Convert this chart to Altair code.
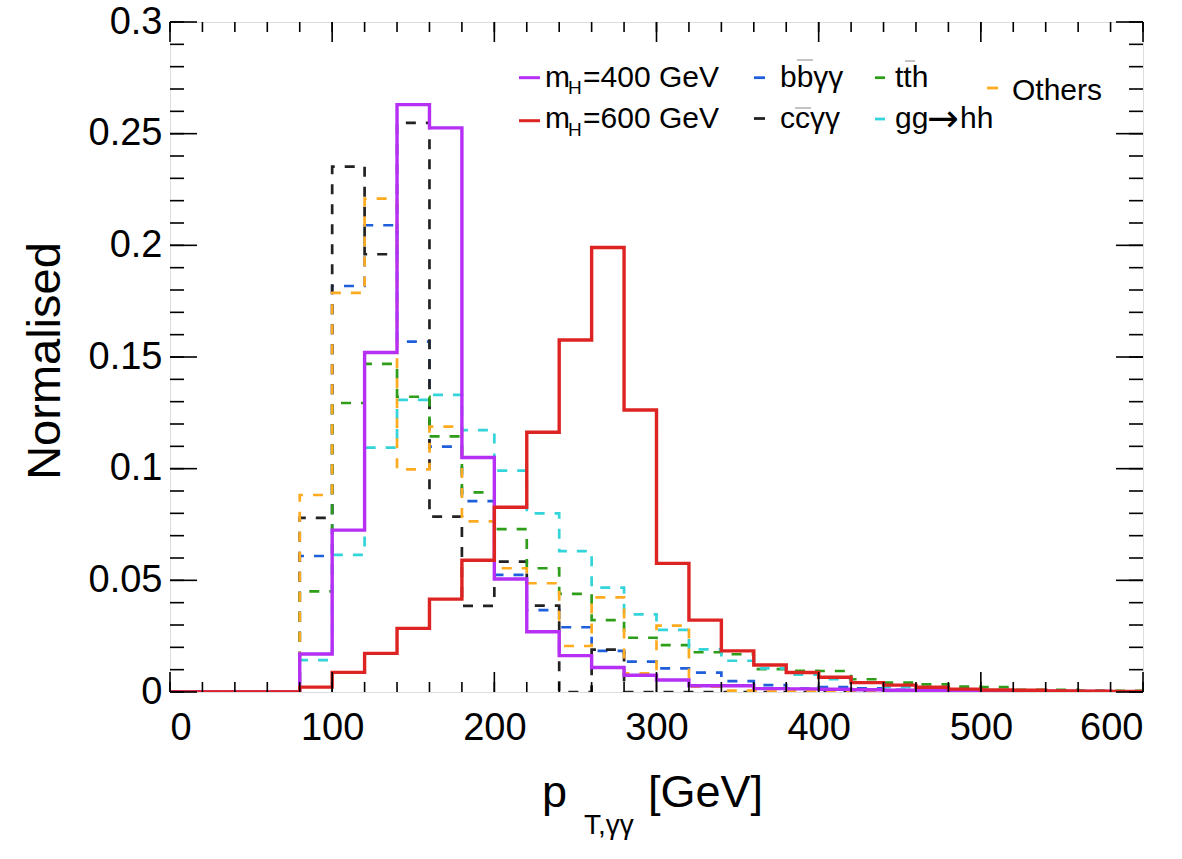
import altair as alt
import pandas as pd

# ---------------- data ----------------
edges = list(range(0, 620, 20))          # 0..600, bin width 20 GeV
zeros_low = [0.0, 0.0, 0.0, 0.0]          # bins 0-80

mh400 = zeros_low + [0.017, 0.0725, 0.152, 0.263, 0.2526, 0.105, 0.0506, 0.027, 0.0163, 0.011,
                     0.0075, 0.0054, 0.0028, 0.0028, 0.0015, 0.0014, 0.0012, 0.001, 0.0008, 0.0006,
                     0.0005, 0.0004, 0.0003, 0.0002, 0.0002, 0.0001]
mh600 = zeros_low + [0.0022, 0.0088, 0.0173, 0.0285, 0.0416, 0.059, 0.0827, 0.1163, 0.1576, 0.199,
                     0.1263, 0.0576, 0.0322, 0.0184, 0.0121, 0.0087, 0.0066, 0.0042, 0.0031, 0.0021,
                     0.0013, 0.0009, 0.0008, 0.0005, 0.0004, 0.0003]
bbaa = zeros_low + [0.0609, 0.1818, 0.209, 0.1569, 0.1099, 0.0855, 0.0524, 0.0367, 0.029, 0.0184,
                    0.0136, 0.0106, 0.0087, 0.0049, 0.0031, 0.0015, 0.0022, 0.0016, 0.001, 0.0006,
                    0.0005, 0.0004, 0.0003, 0.0002, 0.0002, 0.0001]
ccaa = zeros_low + [0.078, 0.2352, 0.196, 0.2548, 0.0785, 0.0386, 0.0584, 0.0387, 0.0, 0.019,
                    0.0, 0.0, 0.0, 0.0, 0.0, 0.0, 0.0, 0.0, 0.0, 0.0,
                    0.0, 0.0, 0.0, 0.0, 0.0, 0.0]
tth = zeros_low + [0.0451, 0.1294, 0.1469, 0.1322, 0.1145, 0.0894, 0.0729, 0.0554, 0.0439, 0.0322,
                   0.0243, 0.021, 0.0178, 0.0169, 0.0102, 0.0095, 0.0094, 0.0057, 0.0042, 0.0034,
                   0.0024, 0.0022, 0.001, 0.001, 0.0006, 0.0005]
gghh = zeros_low + [0.0143, 0.0614, 0.1094, 0.1308, 0.133, 0.1173, 0.0991, 0.08, 0.0631, 0.0467,
                    0.0348, 0.0278, 0.0191, 0.014, 0.0106, 0.0078, 0.0057, 0.0043, 0.0022, 0.0012,
                    0.0008, 0.0006, 0.0005, 0.0003, 0.0003, 0.0002]
others = zeros_low + [0.0882, 0.1787, 0.2209, 0.0997, 0.1188, 0.0764, 0.0554, 0.0487, 0.0206, 0.0424,
                      0.0084, 0.0297, 0.0024, 0.0006, 0.0006, 0.0004, 0.0003, 0.0003, 0.0002, 0.0002,
                      0.0001, 0.0001, 0.0001, 0.0001, 0.0001, 0.0001]

x_tick_labels = [0, 100, 200, 300, 400, 500, 600]
y_tick_labels = [0, 0.05, 0.1, 0.15, 0.2, 0.25, 0.3]
x_minor = list(range(0, 620, 20))
y_minor = [round(i * 0.01, 2) for i in range(31)]

# ---------------- layout / style ----------------
W, H = 973, 670
FONT = "Liberation Sans"
C_PURPLE = "#b52ff5"
C_RED = "#de2323"
C_BLUE = "#1f5fdb"
C_BLACK = "#222222"
C_GREEN = "#2e9e1a"
C_CYAN = "#33d4da"
C_ORANGE = "#ffab1f"

xs = alt.Scale(domain=[0, 600], nice=False, zero=False)
ys = alt.Scale(domain=[0, 0.3], nice=False, zero=False)
x_axis = alt.Axis(values=x_tick_labels, format="d", ticks=False, domain=False, grid=False,
                  labelFontSize=38, labelPadding=17, labelFont=FONT, labelColor="black", title=None)
y_axis = alt.Axis(values=y_tick_labels, format="~g", ticks=False, domain=False, grid=False,
                  labelFontSize=38, labelPadding=8, labelFont=FONT, labelColor="black", title=None)


def step_frame(vals):
    # step-after points: left edge of each bin plus the final edge
    return pd.DataFrame({"x": edges, "y": vals + [vals[-1]]})


def hist_layer(vals, color, dashed, width):
    mark_kw = dict(interpolate="step-after", color=color, strokeWidth=width, clip=True)
    if dashed:
        mark_kw["strokeDash"] = [10, 10]
    return alt.Chart(step_frame(vals)).mark_line(**mark_kw).encode(
        x=alt.X("x:Q", scale=xs, axis=x_axis),
        y=alt.Y("y:Q", scale=ys, axis=y_axis),
    )


layers = []
# backgrounds first, signals on top
for vals, col in [(bbaa, C_BLUE), (ccaa, C_BLACK), (tth, C_GREEN), (gghh, C_CYAN), (others, C_ORANGE)]:
    layers.append(hist_layer(vals, col, True, 2.7))
layers.append(hist_layer(mh400, C_PURPLE, False, 3.4))
layers.append(hist_layer(mh600, C_RED, False, 3.4))

# ---------------- inward ticks on all four sides ----------------
xmin_df = pd.DataFrame({"t": x_minor})
xmaj_df = pd.DataFrame({"t": x_tick_labels})
ymin_df = pd.DataFrame({"t": y_minor})
ymaj_df = pd.DataFrame({"t": y_tick_labels})

for df, ln in [(xmin_df, 10), (xmaj_df, 20)]:
    layers.append(alt.Chart(df).mark_rule(color="black", strokeWidth=1.6).encode(
        x=alt.X("t:Q", scale=xs, axis=x_axis), y=alt.value(H), y2=alt.value(H - ln)))
    layers.append(alt.Chart(df).mark_rule(color="black", strokeWidth=1.6).encode(
        x=alt.X("t:Q", scale=xs, axis=x_axis), y=alt.value(0), y2=alt.value(ln)))
for df, ln in [(ymin_df, 14), (ymaj_df, 27)]:
    layers.append(alt.Chart(df).mark_rule(color="black", strokeWidth=1.6).encode(
        y=alt.Y("t:Q", scale=ys, axis=y_axis), x=alt.value(0), x2=alt.value(ln)))
    layers.append(alt.Chart(df).mark_rule(color="black", strokeWidth=1.6).encode(
        y=alt.Y("t:Q", scale=ys, axis=y_axis), x=alt.value(W), x2=alt.value(W - ln)))

one = pd.DataFrame({"a": [0]})


def txt(s, x, y, size, align="left", angle=0, font=FONT):
    kw = dict(font=font, fontSize=size, align=align, baseline="alphabetic", color="black")
    if angle:
        kw["angle"] = angle
    return alt.Chart(one).mark_text(**kw).encode(x=alt.value(x), y=alt.value(y), text=alt.value(s))


def seg(x1, x2, y, color, w=3):
    return alt.Chart(one).mark_rule(color=color, strokeWidth=w).encode(
        x=alt.value(x1), x2=alt.value(x2), y=alt.value(y))


# ---------------- axis titles ----------------
layers.append(txt("Normalised", -110, 339, 47, align="center", angle=270))
layers.append(txt("p", 372, 785, 45))
layers.append(txt("T,γγ", 414, 812, 28))
layers.append(txt("[GeV]", 478, 785, 45))

# ---------------- legend ----------------
R1, R2 = 64.5, 106
layers.append(seg(349, 370, 55.7, C_PURPLE))
layers.append(txt("m", 375, R1, 30))
layers.append(txt("H", 398, R1 + 7.6, 19))
layers.append(txt("=400 GeV", 413, R1, 30))
layers.append(seg(349, 370, 98.7, C_RED))
layers.append(txt("m", 375, R2, 30))
layers.append(txt("H", 398, R2 + 7.6, 19))
layers.append(txt("=600 GeV", 413, R2, 30))

layers.append(seg(584, 595, 55.7, C_BLUE, 2.8))
layers.append(txt("bbγγ", 610, R1, 30))
layers.append(seg(627, 643, 38, "#888888", 1))
layers.append(seg(584, 595, 96.5, C_BLACK, 2.8))
layers.append(txt("ccγγ", 610, R2, 30))
layers.append(seg(625, 641, 86, "#888888", 1))

layers.append(seg(705, 715, 55.7, C_GREEN, 2.8))
layers.append(txt("tth", 725, R1, 30))
layers.append(seg(735, 745, 39, "#888888", 1))
layers.append(seg(705, 715, 97, C_CYAN, 2.8))
layers.append(txt("gg", 725, R2, 30))
layers.append(txt("→", 757, R2 + 3, 38, font="DejaVu Sans"))
layers.append(txt("hh", 790, R2, 30))

layers.append(seg(817, 828, 66, C_ORANGE, 2.8))
layers.append(txt("Others", 842, 78, 30))

chart = alt.layer(*layers).properties(
    width=W, height=H,
    autosize=alt.AutoSizeParams(type="none"),
    padding={"left": 170, "top": 22, "right": 39, "bottom": 167},
    background="white",
).configure_view(stroke="black", strokeWidth=2).configure(font=FONT)

chart.save("out.html", embed_options={"renderer": "svg", "actions": False})
